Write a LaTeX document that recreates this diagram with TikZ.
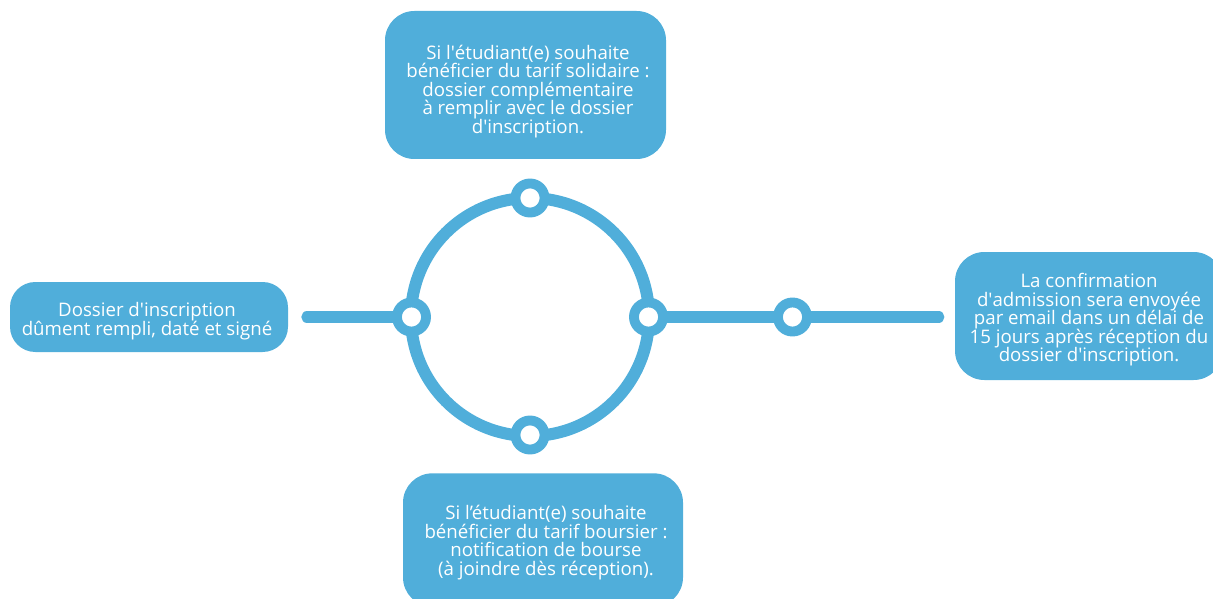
\documentclass[tikz,border=0pt]{standalone}
\usepackage{fontspec}
\setmainfont{Open Sans}
\newcommand\aq{\textquotesingle}
\newcommand\boxfont{\fontsize{14}{13.9}\selectfont\lineskiplimit=-10pt\relax}
\definecolor{bleu}{RGB}{80,174,218}
\tikzset{
  box/.style={fill=bleu, draw=none, rounded corners=22pt, inner sep=0pt},
  txt/.style={text=white, align=center, font=\boxfont, inner sep=0pt},
  dot/.style={circle, draw=bleu, fill=white, line width=7.4pt, minimum size=21.8pt, inner sep=0pt},
  ring/.style={circle, draw=bleu, line width=9pt, minimum size=178.5pt, inner sep=0pt},
  link/.style={draw=bleu, line width=8.5pt, line cap=round}
}
\begin{document}
\begin{tikzpicture}[x=0.75pt, y=-0.75pt]
\useasboundingbox (0,0) rectangle (1213,599);
\clip (0,0) rectangle (1213,599);
% boxes
\node[box, minimum width=210.75pt, minimum height=111pt] (top) at (525.5,85) {};
\node[box, rounded corners=19pt, minimum width=208.5pt, minimum height=52.5pt] (left) at (149,317) {};
\node[box, minimum width=201pt, minimum height=96pt] (right) at (1089,316) {};
\node[box, minimum width=210pt, minimum height=100pt] (bottom) at (543,540) {};
% texts
\node[txt] (topT) at (528,91.5)
  {Si l\aq étudiant(e) souhaite\\bénéficier du tarif solidaire :\\dossier complémentaire\\à remplir avec le dossier\\d\aq inscription.};
\node[txt] (leftT) at (147,321)
  {Dossier d\aq inscription\\dûment rempli, daté et signé};
\node[txt] (rightT) at (1089,320)
  {La confirmation\\d\aq admission sera envoyée\\par email dans un délai de\\15 jours après réception du\\dossier d\aq inscription.};
\node[txt] (bottomT) at (546,542.5)
  {Si l’étudiant(e) souhaite\\bénéficier du tarif boursier :\\notification de bourse\\(à joindre dès réception).};
% ring
\node[ring] (ring) at (530,317) {};
% dots
\coordinate (cW) at (411.5,317);
\coordinate (cE) at (648.5,317);
\coordinate (cN) at (530,198);
\coordinate (cS) at (530,435);
\coordinate (cF) at (792.5,317);
% connectors
\draw[link, shorten <=14pt] (cW -| left.east) -- (cW);
\draw[link, shorten >=12pt] (cE) -- (cE -| right.west);
\node[dot] (dW) at (cW) {};
\node[dot] (dE) at (cE) {};
\node[dot] (dN) at (cN) {};
\node[dot] (dS) at (cS) {};
\node[dot] (dF) at (cF) {};
\end{tikzpicture}
\end{document}
